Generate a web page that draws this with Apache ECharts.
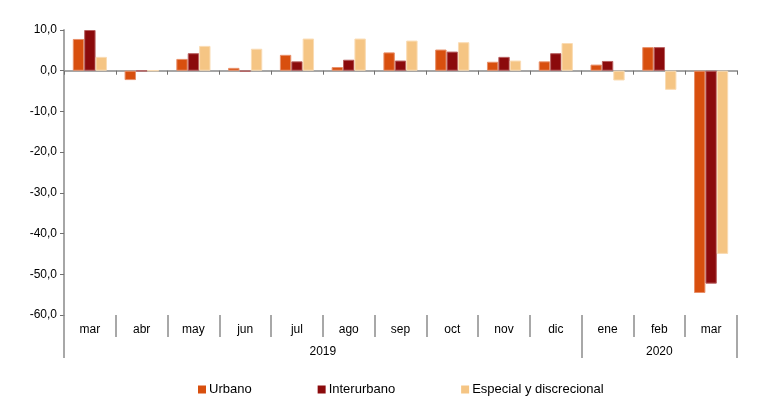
<!DOCTYPE html>
<html><head><meta charset="utf-8">
<script src="https://cdn.jsdelivr.net/npm/echarts@6/dist/echarts.min.js"></script>
<style>html,body{margin:0;padding:0;background:#fff}#c{width:773px;height:411px}</style>
</head><body><div id="c"></div>
<script>
var months = ['mar','abr','may','jun','jul','ago','sep','oct','nov','dic','ene','feb','mar'];
var yearLabels = ['2019','2020'];
var yearCenters = [5, 11.5];
var yearBounds = [0, 10, 13];
var urbano =      [7.8, -2.3, 2.9, 0.7, 3.9, 0.9, 4.5, 5.2, 2.2, 2.3, 1.5, 5.8, -54.6];
var interurbano = [10.0, -0.1, 4.3, -0.2, 2.3, 2.7, 2.5, 4.7, 3.4, 4.3, 2.4, 5.8, -52.3];
var especial =    [3.4, 0.0, 6.1, 5.4, 7.9, 7.9, 7.4, 7.0, 2.5, 6.8, -2.4, -4.7, -45.0];
var yTicks = {min: -60, max: 10, interval: 10};

var font = 'Liberation Sans, Arial, sans-serif';
var chart = echarts.init(document.getElementById('c'));
function bar(name, data, color, border) {
  return {name: name, type: 'bar', data: data, xAxisIndex: 0, yAxisIndex: 0,
    barGap: '0%', barCategoryGap: '34%',
    itemStyle: {color: color, borderColor: border, borderWidth: 1}};
}
chart.setOption({
  animation: false,
  textStyle: {fontFamily: font},
  grid: {left: 64, right: 36, top: 30, bottom: 96, containLabel: false},
  legend: {
    left: 193, top: 378, itemWidth: 8, itemHeight: 8, itemGap: 66,
    icon: 'rect',
    itemStyle: {borderWidth: 0},
    textStyle: {fontSize: 13, color: '#000', fontFamily: font, padding: [0, 0, 0, -2]},
    data: ['Urbano', 'Interurbano', 'Especial y discrecional']
  },
  xAxis: [
    {type: 'category', data: months, position: 'bottom',
      axisLine: {onZero: true, lineStyle: {color: '#a6a6a6', width: 2}},
      axisTick: {show: true, interval: 0, length: 4, lineStyle: {color: '#707070'}},
      axisLabel: {show: false}, splitLine: {show: false}},
    {type: 'category', data: months, position: 'bottom', offset: 0,
      axisLine: {show: false, onZero: false},
      axisTick: {show: true, interval: 0, length: 22, lineStyle: {color: '#8c8c8c', width: 1.5}},
      axisLabel: {interval: 0, margin: 9, fontSize: 12, color: '#000', fontFamily: font},
      splitLine: {show: false}},
    {type: 'value', min: 0, max: 13, position: 'bottom', offset: 0,
      axisLine: {show: false, onZero: false},
      axisTick: {show: true, customValues: yearBounds, length: 43, lineStyle: {color: '#8c8c8c', width: 1.5}},
      axisLabel: {customValues: yearCenters, margin: 31, fontSize: 12, color: '#000', fontFamily: font,
        formatter: function (v) { var i = yearCenters.indexOf(v); return i >= 0 ? yearLabels[i] : ''; }},
      splitLine: {show: false}}
  ],
  yAxis: {
    type: 'value', min: yTicks.min, max: yTicks.max, interval: yTicks.interval,
    axisLine: {show: true, lineStyle: {color: '#a6a6a6', width: 2}},
    axisTick: {show: true, length: 4, lineStyle: {color: '#707070'}},
    axisLabel: {fontSize: 12, color: '#000', margin: 7, fontFamily: font,
      formatter: function (v) { return v.toFixed(1).replace('.', ','); }},
    splitLine: {show: false}
  },
  series: [
    bar('Urbano', urbano, '#d84f0e', '#e8906a'),
    bar('Interurbano', interurbano, '#8b0a0c', '#b86060'),
    bar('Especial y discrecional', especial, '#f5c584', '#fadcb4')
  ]
});
</script></body></html>
